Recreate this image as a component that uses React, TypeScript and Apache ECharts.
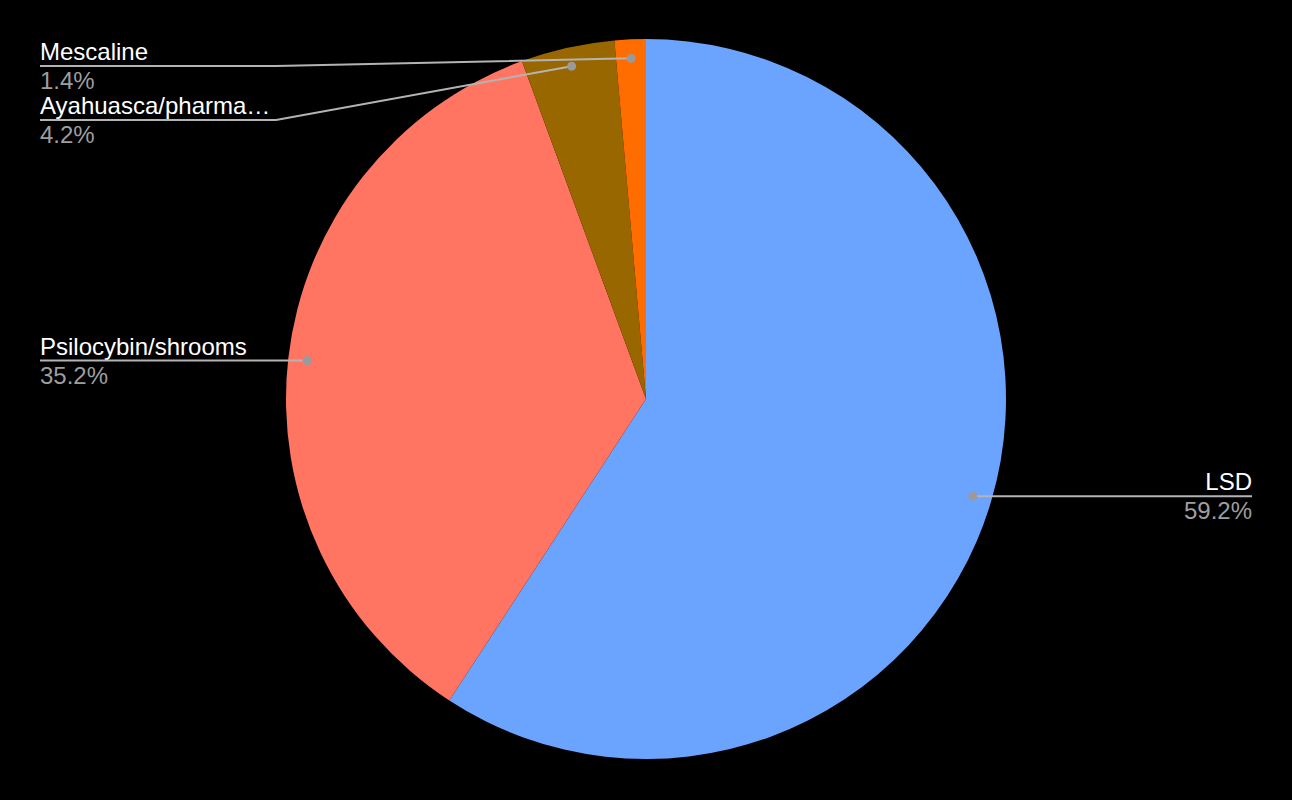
import React, { useEffect, useRef } from "react";
import * as echarts from "echarts";

const categories = ["LSD", "Psilocybin/shrooms", "Ayahuasca/pharmahuasca", "Mescaline"];
const shares = [59.2, 35.2, 4.2, 1.4];
const colors = ["#6ba4fe", "#ff7562", "#996700", "#ff6d01"];

const W = 1292;
const H = 800;
const CX = 646;
const CY = 399;
const R = 360;
const DOT_R = 341;
const EDGE = 40;
const TOP_LINE = 66;
const STACK = 54;
const LABEL_W = 236;
const FS = 24;
const FONT = 'Arial, "Liberation Sans", Helvetica, sans-serif';

type Lay = { dx: number; dy: number; lineY: number; right: boolean };

function computeLayout(): Lay[] {
  const total = shares.reduce((a, b) => a + b, 0);
  let cum = 0;
  const lays: Lay[] = shares.map((v) => {
    const m = (cum + v / 2) / total;
    cum += v;
    const th = m * Math.PI * 2;
    const dx = CX + DOT_R * Math.sin(th);
    const dy = CY - DOT_R * Math.cos(th);
    return { dx, dy, lineY: dy, right: Math.sin(th) > 0 };
  });
  const left = lays.filter((l) => !l.right).sort((a, b) => a.dy - b.dy);
  let prev = -Infinity;
  left.forEach((l) => {
    l.lineY = Math.max(l.dy, prev + STACK, TOP_LINE);
    prev = l.lineY;
  });
  return lays;
}

function linePoints(l: Lay): number[][] {
  if (l.right) {
    const endX = W - EDGE;
    return [
      [l.dx, l.dy],
      [endX - LABEL_W, l.lineY],
      [endX, l.lineY],
    ];
  }
  return [
    [l.dx, l.dy],
    [EDGE + LABEL_W, l.lineY],
    [EDGE, l.lineY],
  ];
}

export default function App() {
  const ref = useRef<HTMLDivElement>(null);
  useEffect(() => {
    if (!ref.current) return;
    const chart = echarts.init(ref.current, undefined, { renderer: "svg" });
    const lays = computeLayout();
    chart.setOption({
      animation: false,
      backgroundColor: "#000000",
      series: [
        {
          type: "pie",
          center: [CX, CY],
          radius: R,
          startAngle: 90,
          clockwise: true,
          silent: true,
          avoidLabelOverlap: false,
          emphasis: { disabled: true },
          data: categories.map((n, i) => ({
            name: n,
            value: shares[i],
            itemStyle: { color: colors[i] },
          })),
          label: {
            show: true,
            position: "outside",
            width: LABEL_W,
            overflow: "truncate",
            ellipsis: "…",
            formatter: (p: any) => `{n|${p.name}}\n{p|${p.percent.toFixed(1)}%}`,
            rich: {
              n: { color: "#ffffff", fontSize: FS, lineHeight: 29, fontFamily: FONT },
              p: { color: "#9e9e9e", fontSize: FS, lineHeight: 29, fontFamily: FONT },
            },
          },
          labelLine: { show: false },
          labelLayout: (params: any) => {
            const l = lays[params.dataIndex];
            return {
              x: l.right ? W - EDGE : EDGE,
              y: l.lineY,
              align: l.right ? "right" : "left",
              verticalAlign: "middle",
            };
          },
        },
        {
          type: "custom",
          coordinateSystem: "none",
          silent: true,
          z: 5,
          data: shares.map((_, i) => [i]),
          renderItem: (_params: any, api: any) => {
            const l = lays[api.value(0)];
            return {
              type: "group",
              children: [
                {
                  type: "polyline",
                  shape: { points: linePoints(l) },
                  style: { stroke: "#b4b4b4", lineWidth: 2, fill: null },
                },
                {
                  type: "circle",
                  shape: { cx: l.dx, cy: l.dy, r: 4.5 },
                  style: { fill: "#9a9a9a" },
                },
              ],
            };
          },
        },
      ],
    });
    return () => chart.dispose();
  }, []);
  return (
    <div
      ref={ref}
      style={{ position: "absolute", left: 0, top: 0, width: W, height: H, background: "#000" }}
    />
  );
}
